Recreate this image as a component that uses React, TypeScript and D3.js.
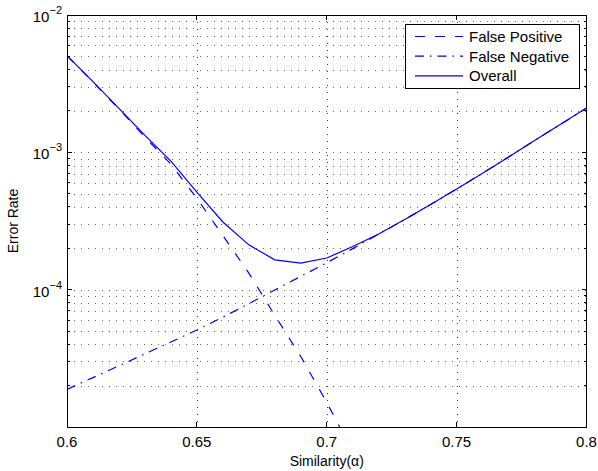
import React from 'react';
import * as d3 from 'd3';

const alpha = [0.60, 0.61, 0.62, 0.63, 0.64, 0.65, 0.66, 0.67, 0.68, 0.69, 0.70, 0.71, 0.72, 0.73, 0.74, 0.75, 0.76, 0.77, 0.78, 0.79, 0.80];
const falsePositive = [5.03e-3, 3.25e-3, 2.07e-3, 1.29e-3, 8.2e-4, 4.62e-4, 2.48e-4, 1.32e-4, 6.5e-5, 3.26e-5, 1.51e-5, 6.6e-6];
const falseNegative = [1.88e-5, 2.29e-5, 2.79e-5, 3.41e-5, 4.16e-5, 5.08e-5, 6.31e-5, 7.91e-5, 9.93e-5, 1.25e-4, 1.57e-4, 1.99e-4, 2.54e-4, 3.24e-4, 4.17e-4, 5.41e-4, 7.05e-4, 9.24e-4, 1.22e-3, 1.6e-3, 2.1e-3];
const overall = [5.05e-3, 3.27e-3, 2.09e-3, 1.33e-3, 8.64e-4, 5.13e-4, 3.11e-4, 2.12e-4, 1.65e-4, 1.56e-4, 1.70e-4, 2.06e-4, 2.54e-4, 3.24e-4, 4.17e-4, 5.41e-4, 7.05e-4, 9.24e-4, 1.22e-3, 1.6e-3, 2.1e-3];
const xTicks = [0.6, 0.65, 0.7, 0.75, 0.8];
const xTickLabels = ['0.6', '0.65', '0.7', '0.75', '0.8'];
const yDecades = [-5, -4, -3, -2];
const seriesNames = ['False Positive', 'False Negative', 'Overall'];

const W = 598, H = 471;
const L = 67, R = 586.5, T = 15, B = 427;
const FONT = '"Liberation Sans", Arial, Helvetica, sans-serif';
const BLUE = '#0000ff';
const dashes = ['9,11', '9,6,1.5,6', 'none'];

export default function App() {
  const x = d3.scaleLinear().domain([0.6, 0.8]).range([L, R]);
  const y = d3.scaleLog().domain([1e-5, 1e-2]).range([B, T]);
  const line = d3.line<[number, number]>().x(d => x(d[0])).y(d => y(d[1]));

  const minorY: number[] = [];
  for (let e = -5; e < -2; e++) for (let m = 2; m <= 9; m++) minorY.push(m * Math.pow(10, e));
  const majorY = yDecades.map(e => Math.pow(10, e));

  const series = [
    alpha.slice(0, falsePositive.length).map((a, i) => [a, falsePositive[i]] as [number, number]),
    alpha.map((a, i) => [a, falseNegative[i]] as [number, number]),
    alpha.map((a, i) => [a, overall[i]] as [number, number]),
  ];

  const gridDash = '1,6';
  const legX = 405, legY = 23.5, legW = 174, legH = 64;

  return (
    <svg width={W} height={H} style={{ position: 'absolute', left: 0, top: 0, background: '#fff' }} fontFamily={FONT}>
      <defs>
        <clipPath id="plotClip"><rect x={L} y={T} width={R - L} height={B - T} /></clipPath>
      </defs>
      <rect x={0} y={0} width={W} height={H} fill="#fff" />
      {/* grid */}
      <g stroke="#333" strokeWidth={1} strokeDasharray={gridDash} shapeRendering="crispEdges">
        {[...minorY, ...majorY].filter(v => v > 1e-5 && v < 1e-2).map((v, i) => (
          <line key={'gy' + i} x1={L} x2={R} y1={Math.round(y(v)) + 0.5} y2={Math.round(y(v)) + 0.5} opacity={0.75} />
        ))}
        {xTicks.slice(1, -1).map((v, i) => (
          <line key={'gx' + i} x1={Math.round(x(v)) + 0.5} x2={Math.round(x(v)) + 0.5} y1={T} y2={B} />
        ))}
      </g>
      {/* series */}
      <g clipPath="url(#plotClip)" fill="none" stroke={BLUE} strokeWidth={1.2}>
        {series.map((s, i) => (
          <path key={'s' + i} d={line(s) || ''} strokeDasharray={dashes[i] === 'none' ? undefined : dashes[i]} />
        ))}
      </g>
      {/* frame and ticks */}
      <g stroke="#000" strokeWidth={1} shapeRendering="crispEdges" fill="none">
        <rect x={L} y={T} width={R - L} height={B - T} />
        {xTicks.map((v, i) => (
          <g key={'xt' + i}>
            <line x1={x(v)} x2={x(v)} y1={B} y2={B - 5} />
            <line x1={x(v)} x2={x(v)} y1={T} y2={T + 5} />
          </g>
        ))}
        {majorY.map((v, i) => (
          <g key={'yt' + i}>
            <line x1={L} x2={L + 5} y1={y(v)} y2={y(v)} />
            <line x1={R} x2={R - 5} y1={y(v)} y2={y(v)} />
          </g>
        ))}
        {minorY.map((v, i) => (
          <g key={'ym' + i}>
            <line x1={L} x2={L + 3} y1={y(v)} y2={y(v)} />
            <line x1={R} x2={R - 3} y1={y(v)} y2={y(v)} />
          </g>
        ))}
      </g>
      {/* tick labels */}
      <g fontSize={15} fill="#000">
        {xTicks.map((v, i) => (
          <text key={'xl' + i} x={x(v)} y={447} textAnchor="middle">{xTickLabels[i]}</text>
        ))}
        {yDecades.filter(e => e > -5).map((e, i) => (
          <text key={'yl' + i} x={62} y={y(Math.pow(10, e)) + 7} textAnchor="end">
            10<tspan fontSize={11} dy={-8}>{'\u2212' + Math.abs(e)}</tspan>
          </text>
        ))}
      </g>
      {/* axis labels */}
      <text x={(L + R) / 2} y={466} textAnchor="middle" fontSize={14}>Similarity(α)</text>
      <text transform={`translate(18,${(T + B) / 2}) rotate(-90)`} textAnchor="middle" fontSize={14}>Error Rate</text>
      {/* legend */}
      <g>
        <rect x={legX + 0.5} y={legY + 0.5} width={legW} height={legH} fill="#fff" stroke="#000" strokeWidth={1} shapeRendering="crispEdges" />
        {seriesNames.map((name, i) => {
          const cy = legY + 13 + i * 19.7;
          return (
            <g key={'lg' + i}>
              <line x1={415} x2={463} y1={cy} y2={cy} stroke={BLUE} strokeWidth={1.2} strokeDasharray={dashes[i] === 'none' ? undefined : (i === 0 ? '10,10' : '9,6,1.5,6')} />
              <text x={469} y={cy + 5.5} fontSize={15}>{name}</text>
            </g>
          );
        })}
      </g>
    </svg>
  );
}
